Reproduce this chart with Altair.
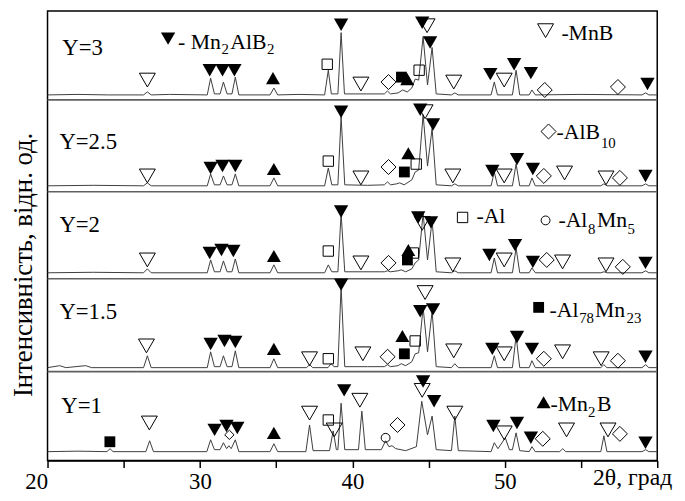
import altair as alt
import pandas as pd

FONT = "Liberation Serif, Times New Roman, serif"

panels = ["Y=3", "Y=2.5", "Y=2", "Y=1.5", "Y=1"]
panel_offsets = [365, 272, 184, 90, 0]
separators = [90, 184, 272, 365]

# (2theta, intensity above the panel floor)
trace_y3 = [(20, 5), (22, 5.5), (24, 5), (26.3, 5), (26.55, 8), (26.8, 5), (28, 5.5),
            (30.48, 5), (30.70, 22), (30.95, 6), (31.32, 6), (31.54, 18), (31.78, 6),
            (32.10, 6), (32.32, 23), (32.55, 5), (34.6, 5), (34.85, 12), (35.1, 5),
            (36.5, 5.5), (38.18, 5), (38.42, 30), (38.62, 6), (39.05, 6), (39.26, 68),
            (39.48, 6), (40.5, 6), (42.1, 6), (42.3, 9), (42.5, 6), (43.0, 7), (43.3, 10),
            (43.6, 8), (43.9, 12), (44.12, 21), (44.35, 20), (44.64, 64), (44.93, 15),
            (45.23, 53), (45.5, 6), (46.5, 5), (46.72, 7), (46.95, 5), (49.1, 5),
            (49.31, 18), (49.52, 5), (50.5, 5), (50.74, 30), (50.98, 5), (51.6, 5),
            (51.78, 10), (52.0, 5), (55, 5.5), (59.0, 5), (59.24, 7), (59.45, 5), (60, 5)]
trace_y25 = [(20, 6), (23, 6.5), (26.3, 6), (26.55, 9), (26.8, 6), (30.48, 6), (30.70, 18),
             (30.95, 7), (31.32, 7), (31.54, 16), (31.78, 7), (32.10, 7), (32.32, 18),
             (32.55, 6), (34.6, 6), (34.85, 14), (35.1, 6), (38.18, 6), (38.42, 24),
             (38.65, 7), (39.05, 7), (39.26, 76), (39.5, 7), (41, 6.5), (42.1, 7), (42.3, 10),
             (42.5, 7), (42.9, 8), (43.1, 9), (43.4, 7), (43.9, 12), (44.12, 20), (44.35, 22),
             (44.64, 78), (44.93, 26), (45.23, 64), (45.5, 7), (46.5, 6), (46.72, 8),
             (46.95, 6), (49.1, 6), (49.31, 20), (49.52, 6), (50.5, 6), (50.74, 28),
             (50.98, 6), (51.6, 6), (51.78, 14), (52.0, 6), (56.3, 6), (56.5, 8), (56.7, 6),
             (59.0, 6), (59.24, 8), (59.45, 6), (60, 6)]
trace_y2 = [(20, 6), (23, 6.5), (26.3, 6), (26.55, 10), (26.8, 6), (30.48, 6), (30.70, 19),
            (30.95, 7), (31.32, 7), (31.54, 18), (31.78, 7), (32.10, 7), (32.32, 20),
            (32.55, 6), (34.6, 6), (34.85, 14), (35.1, 6), (38.18, 6), (38.42, 14),
            (38.65, 7), (39.05, 7), (39.26, 66), (39.5, 7), (42.1, 7), (42.3, 8), (42.5, 7),
            (43.0, 8), (43.2, 9), (43.5, 7), (43.9, 10), (44.12, 16), (44.35, 19),
            (44.64, 66), (44.93, 19), (45.23, 59), (45.5, 7), (46.5, 6), (46.72, 8),
            (46.95, 6), (49.1, 6), (49.31, 21), (49.52, 6), (50.5, 6), (50.74, 31),
            (50.98, 6), (51.6, 6), (51.78, 11), (52.0, 6), (56.3, 6), (56.5, 7), (56.7, 6),
            (59.0, 6), (59.24, 8), (59.45, 6), (60, 6)]
trace_y15 = [(20, 4), (20.8, 6), (21.2, 4), (22.5, 6), (22.9, 4), (26.3, 4), (26.55, 16),
             (26.8, 4), (30.48, 4), (30.70, 20), (30.95, 5), (31.32, 5), (31.54, 16),
             (31.78, 5), (32.10, 5), (32.32, 21), (32.55, 4), (34.6, 4), (34.85, 13),
             (35.1, 4), (37.0, 4), (37.19, 7), (37.4, 4), (38.4, 4), (38.6, 8), (38.8, 5),
             (39.05, 5), (39.26, 86), (39.5, 5), (41, 5), (42.1, 5), (42.3, 7), (42.5, 5),
             (43.0, 6), (43.2, 8), (43.5, 6), (43.9, 10), (44.12, 18), (44.35, 19),
             (44.64, 65), (44.93, 20), (45.23, 61), (45.5, 5), (46.5, 4), (46.72, 8),
             (46.95, 4), (49.1, 4), (49.31, 16), (49.52, 4), (50.5, 4), (50.74, 36),
             (50.98, 4), (51.6, 4), (51.78, 11), (52.0, 4), (56.3, 4), (56.5, 7), (56.7, 4),
             (59.0, 4), (59.24, 7), (59.45, 4), (60, 4)]
trace_y1 = [(20, 9), (22, 9.5), (23.9, 9), (24.1, 12), (24.3, 9), (26.45, 9), (26.7, 20),
            (26.95, 9), (30.45, 9), (30.70, 21), (30.95, 11), (31.32, 11), (31.54, 18),
            (31.75, 12), (31.9, 15), (32.05, 12), (32.32, 21), (32.55, 9), (34.6, 9),
            (34.85, 17), (35.1, 9), (36.95, 9), (37.19, 36), (37.42, 10), (38.5, 10),
            (38.74, 30), (38.95, 11), (39.05, 11), (39.26, 58), (39.5, 11), (40.4, 11),
            (40.62, 50), (40.85, 11), (41.9, 11), (42.18, 20), (42.4, 14), (42.6, 15),
            (42.85, 12), (43.5, 10), (44.2, 14), (44.55, 60), (44.93, 26), (45.23, 45),
            (45.5, 11), (46.5, 10), (46.72, 45), (46.95, 10), (49.1, 9), (49.31, 18),
            (49.55, 12), (50.03, 23), (50.3, 11), (50.5, 11), (50.74, 28), (50.98, 10),
            (51.6, 9), (51.78, 14), (52.0, 9), (53.6, 9), (53.8, 12), (54.0, 9), (56.3, 9),
            (56.5, 25), (56.7, 9), (59.0, 9), (59.24, 11), (59.45, 9), (60, 9)]
traces = [trace_y3, trace_y25, trace_y2, trace_y15, trace_y1]

# phase markers: A=Mn2AlB2, M=MnB, T=Mn2B, S=Al, Q=Al78Mn23, D=AlB10, d=AlB10 (small), C=Al8Mn5
marks_y3 = [("M", 26.55, 20), ("A", 30.64, 30), ("A", 31.48, 30), ("A", 32.26, 30),
            ("T", 34.79, 22), ("S", 38.35, 36), ("A", 39.26, 76), ("M", 40.56, 16),
            ("D", 42.37, 18), ("Q", 43.22, 23), ("T", 43.6, 21), ("S", 44.38, 30),
            ("M", 44.9, 75), ("A", 44.58, 78), ("A", 45.1, 58), ("M", 46.65, 18),
            ("A", 49.05, 26), ("M", 49.96, 20), ("A", 50.61, 36), ("A", 51.71, 27),
            ("D", 52.62, 10), ("D", 57.42, 13), ("A", 59.36, 16)]
marks_y25 = [("M", 26.55, 16), ("A", 30.70, 24), ("A", 31.48, 26), ("A", 32.32, 26),
             ("T", 34.85, 23), ("S", 38.42, 31), ("A", 39.26, 81), ("M", 40.56, 14),
             ("D", 42.37, 25), ("T", 43.67, 39), ("Q", 43.41, 20), ("S", 44.19, 28),
             ("M", 44.77, 81), ("A", 44.45, 83), ("A", 45.29, 68), ("M", 46.59, 16),
             ("A", 49.18, 21), ("M", 49.96, 16), ("A", 50.8, 33), ("A", 51.84, 23),
             ("D", 52.56, 16), ("M", 53.92, 19), ("M", 56.64, 14), ("D", 57.55, 14),
             ("A", 59.23, 16)]
marks_y2 = [("M", 26.55, 19), ("A", 30.64, 26), ("A", 31.41, 29), ("A", 32.19, 28),
            ("T", 34.85, 23), ("S", 38.42, 28), ("A", 39.26, 68), ("M", 40.56, 16),
            ("D", 42.37, 16), ("T", 43.67, 29), ("Q", 43.61, 19), ("S", 44.0, 26),
            ("M", 44.58, 56), ("A", 44.32, 62), ("A", 45.16, 57), ("M", 46.59, 14),
            ("A", 48.99, 24), ("M", 49.96, 19), ("A", 50.67, 34), ("A", 51.84, 17),
            ("D", 52.75, 19), ("M", 53.79, 17), ("M", 56.64, 14), ("D", 57.74, 12),
            ("A", 59.23, 16)]
marks_y15 = [("M", 26.49, 26), ("A", 30.70, 28), ("A", 31.61, 31), ("A", 32.32, 30),
             ("T", 34.85, 23), ("M", 37.19, 13), ("S", 38.42, 13), ("A", 39.26, 88),
             ("M", 40.69, 18), ("D", 42.31, 15), ("T", 43.28, 36), ("Q", 43.41, 18),
             ("S", 44.12, 31), ("M", 44.77, 80), ("A", 44.45, 61), ("A", 45.29, 63),
             ("M", 46.65, 21), ("A", 49.18, 23), ("M", 49.96, 18), ("A", 50.8, 35),
             ("A", 51.78, 23), ("D", 52.56, 13), ("M", 53.79, 20), ("M", 56.32, 13),
             ("D", 57.42, 11), ("A", 59.23, 15)]
marks_y1 = [("Q", 24.09, 19), ("M", 26.68, 38), ("A", 30.96, 31), ("A", 31.74, 35),
            ("A", 32.45, 33), ("d", 31.93, 26), ("T", 34.85, 28), ("M", 37.19, 48),
            ("S", 38.42, 41), ("M", 38.81, 31), ("A", 39.46, 71), ("M", 40.49, 61),
            ("C", 42.18, 23), ("D", 42.96, 36), ("M", 44.58, 71), ("A", 44.64, 80),
            ("A", 45.36, 60), ("M", 46.72, 48), ("A", 49.25, 35), ("M", 49.96, 28),
            ("A", 50.8, 38), ("A", 51.71, 23), ("D", 52.49, 22), ("M", 54.05, 31),
            ("M", 56.77, 31), ("D", 57.55, 27), ("A", 59.23, 18)]
marks = [marks_y3, marks_y25, marks_y2, marks_y15, marks_y1]

# legend: symbol, label pieces (text, is_subscript)
legend_symbols = ["A", "M", "D", "S", "C", "Q", "T"]
legend_pieces = [
    [("- Mn", 0), ("2", 1), ("AlB", 0), ("2", 1)],
    [("-MnB", 0)],
    [("-AlB", 0), ("10", 1)],
    [("-Al", 0)],
    [("-Al", 0), ("8", 1), ("Mn", 0), ("5", 1)],
    [("-Al", 0), ("78", 1), ("Mn", 0), ("23", 1)],
    [("-Mn", 0), ("2", 1), ("B", 0)],
]

# ---------------- layout (pixel positions inside the plot area) ----------------
legend_sym_pos = [(122, 28), (504, 20), (507, 122), (420, 209), (504, 212), (497, 300), (502, 396)]
legend_piece_pos = [
    [(132, 39), (176, 44), (185, 39), (222, 44)],
    [(520, 29)],
    [(515, 130), (560, 139)],
    [(434, 215)],
    [(517, 219), (547, 226), (556, 219), (587, 226)],
    [(508, 310), (538, 316), (554, 310), (586, 316)],
    [(509, 405), (547, 411), (556, 405)],
]
panel_label_pos = [(15, 45), (12, 140), (12, 224), (12, 312), (14, 407)]

STYLE = {
    "A": dict(shape="triangle-down", filled=True, size=210),
    "M": dict(shape="triangle-down", filled=False, size=260),
    "T": dict(shape="triangle-up", filled=True, size=200),
    "S": dict(shape="square", filled=False, size=110),
    "Q": dict(shape="square", filled=True, size=120),
    "D": dict(shape="diamond", filled=False, size=230),
    "d": dict(shape="diamond", filled=False, size=90),
    "C": dict(shape="circle", filled=False, size=80),
}

# ---------------- tables ----------------
trace_rows = []
for name, off, pts in zip(panels, panel_offsets, traces):
    for i, (x, r) in enumerate(pts):
        trace_rows.append({"panel": name, "i": i, "deg": x, "val": off + r})
trace_df = pd.DataFrame(trace_rows)

mark_rows = []
for name, off, ms in zip(panels, panel_offsets, marks):
    for k, x, r in ms:
        mark_rows.append({"panel": name, "k": k, "deg": x, "val": off + r})
mark_df = pd.DataFrame(mark_rows)

leg_sym_df = pd.DataFrame([{"k": k, "px": p[0], "py": p[1]}
                           for k, p in zip(legend_symbols, legend_sym_pos)])

text_rows = []
for pieces, poss in zip(legend_pieces, legend_piece_pos):
    for (t, sub), (px, py) in zip(pieces, poss):
        text_rows.append({"t": t, "px": px, "py": py, "fs": 15 if sub else 22})
for name, (px, py) in zip(panels, panel_label_pos):
    text_rows.append({"t": name, "px": px, "py": py, "fs": 23})
text_rows.append({"t": "2θ, град", "px": 552, "py": 480, "fs": 24})
text_df = pd.DataFrame(text_rows)

sep_df = pd.DataFrame({"val": separators})

# ---------------- encodings ----------------
X = alt.X("deg:Q", scale=alt.Scale(domain=[20, 60], nice=False, zero=False),
          axis=alt.Axis(values=[20, 25, 30, 35, 40, 45, 50, 55, 60],
                        labelExpr="(datum.value % 10 == 0 && datum.value < 60) ? datum.value : ''",
                        tickSize=7, tickWidth=1.5, tickColor="black",
                        domainColor="black", domainWidth=1.5,
                        labelFont=FONT, labelFontSize=23, labelColor="black",
                        labelPadding=3, grid=False, title=None,
                        labelAlign=alt.condition("datum.value == 20", alt.value("right"), alt.value("center"))))
Y = alt.Y("val:Q", scale=alt.Scale(domain=[0, 455], nice=False, zero=False), axis=None)
PX = alt.X("px:Q", scale=None, axis=None)
PY = alt.Y("py:Q", scale=None, axis=None)

layers = []
layers.append(alt.Chart(sep_df).mark_rule(color="#606060", strokeWidth=1.6).encode(y=Y))
layers.append(alt.Chart(trace_df).mark_line(color="#3c3c3c", strokeWidth=1).encode(
    x=X, y=Y, detail="panel:N", order="i:Q"))

for k, st in STYLE.items():
    layers.append(alt.Chart(mark_df).transform_filter(alt.datum.k == k).mark_point(
        shape=st["shape"], filled=st["filled"], size=st["size"], color="black",
        strokeWidth=1, opacity=1).encode(x=X, y=Y))
    if k in legend_symbols:
        layers.append(alt.Chart(leg_sym_df).transform_filter(alt.datum.k == k).mark_point(
            shape=st["shape"], filled=st["filled"], size=st["size"], color="black",
            strokeWidth=1, opacity=1).encode(x=PX, y=PY))

layers.append(alt.Chart(text_df).mark_text(align="left", baseline="alphabetic", font=FONT,
                                           color="black").encode(
    x=PX, y=PY, text="t:N", size=alt.Size("fs:Q", scale=None, legend=None)))

layers.append(alt.Chart(pd.DataFrame({"a": [0]})).mark_text(
    angle=270, align="center", baseline="middle", font=FONT, fontSize=27, color="black").encode(
    x=alt.value(-24), y=alt.value(257), text=alt.value("Інтенсивність, відн. од.")))

chart = alt.layer(*layers).properties(
    width=617, height=455,
    autosize=alt.AutoSizeParams(type="none"),
    padding={"left": 40, "top": 0, "right": 20, "bottom": 38},
).configure_view(stroke="black", strokeWidth=1.5)

chart.save("out.html", embed_options={"renderer": "svg", "actions": False})
